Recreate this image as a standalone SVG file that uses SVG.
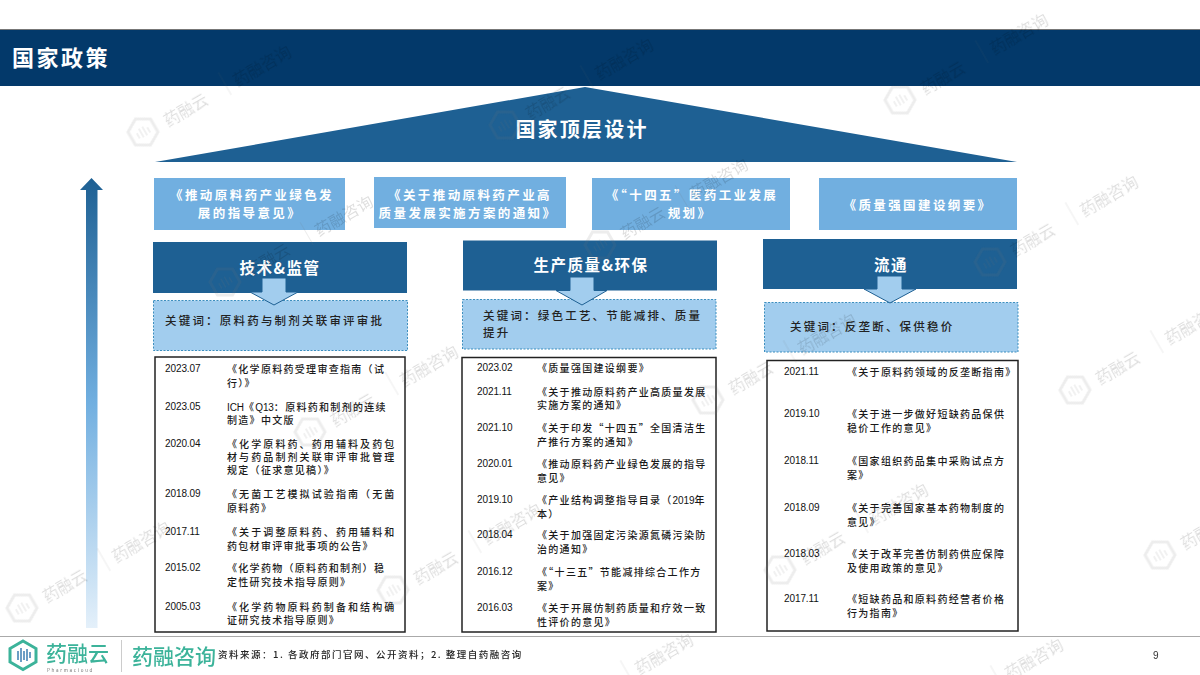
<svg xmlns="http://www.w3.org/2000/svg" xmlns:xlink="http://www.w3.org/1999/xlink" width="1200" height="675" viewBox="0 0 1200 675">
<style>
text{font-family:"Noto Sans CJK SC","Liberation Sans",sans-serif;}
.dk{fill:#1e6093}
.lt{fill:#71afe0}
.kw{fill:#a2cdee;stroke:#3d8fbf;stroke-width:1;stroke-dasharray:2 1.5}
.list{fill:#fff;stroke:#222;stroke-width:1.5}
.doc{fill:#fff;font-size:12.5px;font-weight:700;letter-spacing:2.4px;text-anchor:middle}
.head{fill:#fff;font-size:15.5px;font-weight:700;letter-spacing:1.5px;text-anchor:middle}
.key{fill:#222;font-size:11.5px;font-weight:500;letter-spacing:2.2px}
.d{fill:#111;font-size:10px;font-family:"Liberation Sans",sans-serif;letter-spacing:-.1px}
.t{fill:#1a1a1a;font-size:10px;font-weight:500;letter-spacing:2.1px}
.t2{fill:#1a1a1a;font-size:10px;font-weight:500;letter-spacing:1.3px}
.arrow{fill:#a2cdee;stroke:#1e6093;stroke-width:1}
.wm text{font-size:21px;fill:#777}
.brand{fill:#3cb39a;font-weight:500}
</style>
<defs>
<linearGradient id="up" x1="0" y1="0" x2="0" y2="1">
<stop offset="0" stop-color="#1e6093"/><stop offset=".5" stop-color="#71afe0"/><stop offset="1" stop-color="#e4f0fa"/>
</linearGradient>
<g id="wmark">
<path d="M0-15 13-7.500V7.500L0 15-13 7.500V-7.500Z" fill="none" stroke="#777" stroke-width="3"/>
<path d="M-6 4V-2M-2 5V-5M2 5V-5M6 4V-2" fill="none" stroke="#777" stroke-width="1.500"/>
<text x="24" y="8">药融云</text>
<path d="M95-14V12" stroke="#777" stroke-width="1" fill="none"/>
<text x="104" y="8">药融咨询</text>
</g>
</defs>
<rect width="1200" height="675" fill="#fff"/>
<g id="title-bar">
<rect x="0" y="29" width="1200" height="1.500" fill="#777"/>
<rect x="0" y="30" width="1200" height="56" fill="#03396a"/>
<text x="12" y="66" fill="#fff" font-size="22" font-weight="700" letter-spacing="2.500">国家政策</text>
</g>
<g id="top-design">
<path d="M155 162 585 87 1017 162Z" class="dk"/>
<text x="582" y="137" fill="#fff" font-size="20" font-weight="700" letter-spacing="2.200" text-anchor="middle">国家顶层设计</text>
</g>
<g id="rising-arrow"><path d="M86 628V190H80L91.500 178 103 190H97.500V628Z" fill="url(#up)"/></g>
<g id="doc-1"><rect x="154" y="178" width="191" height="52" class="lt"/><text class="doc" x="252" y="200">《推动原料药产业绿色发</text><text class="doc" x="250" y="218">展的指导意见》</text></g>
<g id="doc-2"><rect x="374" y="177" width="192" height="51" class="lt"/><text class="doc" x="470" y="200">《关于推动原料药产业高</text><text class="doc" x="468" y="218">质量发展实施方案的通知》</text></g>
<g id="doc-3"><rect x="592" y="178" width="198" height="52" class="lt"/><text class="doc" x="692" y="200">《“十四五”医药工业发展</text><text class="doc" x="690" y="218">规划》</text></g>
<g id="doc-4"><rect x="819" y="178" width="198" height="52" class="lt"/><text class="doc" x="918" y="210">《质量强国建设纲要》</text></g>
<g id="col-1-head"><rect x="153" y="242" width="254" height="51" class="dk"/><text class="head" x="280" y="274">技术&amp;监管</text></g>
<g id="col-2-head"><rect x="463" y="240.500" width="254" height="50" class="dk"/><text class="head" x="591" y="271">生产质量&amp;环保</text></g>
<g id="col-3-head"><rect x="763" y="239" width="254" height="50" class="dk"/><text class="head" x="891" y="271">流通</text></g>
<g id="col-1-key"><rect x="153.500" y="300.500" width="254" height="50" class="kw"/><text class="key" x="165" y="325">关键词：原料药与制剂关联审评审批</text></g>
<g id="col-2-key"><rect x="462.500" y="299.500" width="253.500" height="49.500" class="kw"/><text class="key" x="483" y="320">关键词：绿色工艺、节能减排、质量</text><text class="key" x="483" y="337">提升</text></g>
<g id="col-3-key"><rect x="764.500" y="302.500" width="253.500" height="49.500" class="kw"/><text class="key" x="790" y="331">关键词：反垄断、保供稳价</text></g>
<g id="connectors">
<path class="arrow" d="M262 278H286V292H298L274 305 250 292H262Z"/>
<path class="arrow" d="M570 277H594V290.500H607L582 305 556 290.500H570Z"/>
<path class="arrow" d="M877 276H902V289H916L890 303 864 289H877Z"/>
</g>
<g id="col-1-list">
<rect x="155" y="357" width="250" height="275" class="list"/>
<text class="d" x="165" y="372">2023.07</text><text class="t2" x="227" y="373">《化学原料药受理审查指南（试</text><text class="t2" x="227" y="387">行）》</text>
<text class="d" x="165" y="410">2023.05</text><text class="t2" x="227" y="411"><tspan class="d">ICH</tspan>《<tspan class="d">Q13</tspan>：原料药和制剂的连续</text><text class="t2" x="227" y="424">制造》中文版</text>
<text class="d" x="165" y="447">2020.04</text><text class="t" x="227" y="448">《化学原料药、药用辅料及药包</text><text class="t" x="227" y="461">材与药品制剂关联审评审批管理</text><text class="t2" x="227" y="474">规定（征求意见稿）》</text>
<text class="d" x="165" y="497">2018.09</text><text class="t" x="227" y="498">《无菌工艺模拟试验指南（无菌</text><text class="t2" x="227" y="512">原料药》</text>
<text class="d" x="165" y="535">2017.11</text><text class="t" x="227" y="536">《关于调整原料药、药用辅料和</text><text class="t2" x="227" y="550">药包材审评审批事项的公告》</text>
<text class="d" x="165" y="571">2015.02</text><text class="t2" x="227" y="572">《化学药物（原料药和制剂）稳</text><text class="t2" x="227" y="586">定性研究技术指导原则》</text>
<text class="d" x="165" y="610">2005.03</text><text class="t" x="227" y="611">《化学药物原料药制备和结构确</text><text class="t2" x="227" y="624">证研究技术指导原则》</text>
</g>
<g id="col-2-list">
<rect x="462" y="357.500" width="254" height="274.500" class="list"/>
<text class="d" x="477" y="371">2023.02</text><text class="t2" x="537" y="372">《质量强国建设纲要》</text>
<text class="d" x="477" y="395">2021.11</text><text class="t2" x="537" y="396">《关于推动原料药产业高质量发展</text><text class="t2" x="537" y="409">实施方案的通知》</text>
<text class="d" x="477" y="431">2021.10</text><text class="t2" x="537" y="432">《关于印发“十四五”全国清洁生</text><text class="t2" x="537" y="446">产推行方案的通知》</text>
<text class="d" x="477" y="467">2020.01</text><text class="t2" x="537" y="468">《推动原料药产业绿色发展的指导</text><text class="t2" x="537" y="482">意见》</text>
<text class="d" x="477" y="503">2019.10</text><text class="t2" x="537" y="504">《产业结构调整指导目录（<tspan class="d">2019</tspan>年</text><text class="t2" x="537" y="518">本）</text>
<text class="d" x="477" y="538">2018.04</text><text class="t2" x="537" y="539">《关于加强固定污染源氮磷污染防</text><text class="t2" x="537" y="553">治的通知》</text>
<text class="d" x="477" y="575">2016.12</text><text class="t2" x="537" y="576">《“十三五”节能减排综合工作方</text><text class="t2" x="537" y="590">案》</text>
<text class="d" x="477" y="611">2016.03</text><text class="t2" x="537" y="612">《关于开展仿制药质量和疗效一致</text><text class="t2" x="537" y="626">性评价的意见》</text>
</g>
<g id="col-3-list">
<rect x="767" y="360.500" width="251" height="270.500" class="list"/>
<text class="d" x="784" y="375">2021.11</text><text class="t2" x="847" y="376">《关于原料药领域的反垄断指南》</text>
<text class="d" x="784" y="417">2019.10</text><text class="t2" x="847" y="418">《关于进一步做好短缺药品保供</text><text class="t2" x="847" y="432">稳价工作的意见》</text>
<text class="d" x="784" y="464">2018.11</text><text class="t2" x="847" y="465">《国家组织药品集中采购试点方</text><text class="t2" x="847" y="479">案》</text>
<text class="d" x="784" y="511">2018.09</text><text class="t2" x="847" y="512">《关于完善国家基本药物制度的</text><text class="t2" x="847" y="526">意见》</text>
<text class="d" x="784" y="557">2018.03</text><text class="t2" x="847" y="558">《关于改革完善仿制药供应保障</text><text class="t2" x="847" y="572">及使用政策的意见》</text>
<text class="d" x="784" y="602">2017.11</text><text class="t2" x="847" y="603">《短缺药品和原料药经营者价格</text><text class="t2" x="847" y="617">行为指南》</text>
</g>
<g id="watermarks" class="wm" opacity=".13">
<use xlink:href="#wmark" href="#wmark" transform="translate(143 132) rotate(-30)"/>
<use xlink:href="#wmark" href="#wmark" transform="translate(505 125) rotate(-30)"/>
<use xlink:href="#wmark" href="#wmark" transform="translate(900 100) rotate(-30)"/>
<use xlink:href="#wmark" href="#wmark" transform="translate(990 262) rotate(-30)"/>
<use xlink:href="#wmark" href="#wmark" transform="translate(225 282) rotate(-30)"/>
<use xlink:href="#wmark" href="#wmark" transform="translate(-165 300) rotate(-30)"/>
<use xlink:href="#wmark" href="#wmark" transform="translate(600 245) rotate(-30)"/>
<use xlink:href="#wmark" href="#wmark" transform="translate(-160 490) rotate(-30)"/>
<use xlink:href="#wmark" href="#wmark" transform="translate(310 432) rotate(-30)"/>
<use xlink:href="#wmark" href="#wmark" transform="translate(708 400) rotate(-30)"/>
<use xlink:href="#wmark" href="#wmark" transform="translate(1075 390) rotate(-30)"/>
<use xlink:href="#wmark" href="#wmark" transform="translate(22 608) rotate(-30)"/>
<use xlink:href="#wmark" href="#wmark" transform="translate(393 590) rotate(-30)"/>
<use xlink:href="#wmark" href="#wmark" transform="translate(780 570) rotate(-30)"/>
<use xlink:href="#wmark" href="#wmark" transform="translate(1160 555) rotate(-30)"/>
<use xlink:href="#wmark" href="#wmark" transform="translate(545 720) rotate(-30)"/>
<use xlink:href="#wmark" href="#wmark" transform="translate(915 725) rotate(-30)"/>
</g>
<g id="footer">
<rect x="0" y="636" width="1200" height="1" fill="#aaa"/>
<path d="M23 641 36 648.500V662L23 669.500 10 662V648.500Z" fill="#fff" stroke="#3cb39a" stroke-width="3"/>
<path d="M18 651V660M21 648V662M24 651V660M27 649V661M30 652V658" stroke="#3c7fb3" stroke-width="1.500" fill="none"/>
<text class="brand" x="46" y="661" font-size="21">药融云</text>
<text x="47" y="672" font-size="4.500" letter-spacing="1.700" fill="#777">Pharmacloud</text>
<rect x="121" y="640" width="1" height="32" fill="#ccc"/>
<text class="brand" x="132" y="664" font-size="21">药融咨询</text>
<text x="218" y="658" font-size="9.500" font-weight="500" letter-spacing="1.500" fill="#222">资料来源：1. 各政府部门官网、公开资料；2. 整理自药融咨询</text>
<text x="1153" y="659" font-size="10" fill="#333" style="font-family:'Liberation Sans',sans-serif">9</text>
</g>
</svg>
